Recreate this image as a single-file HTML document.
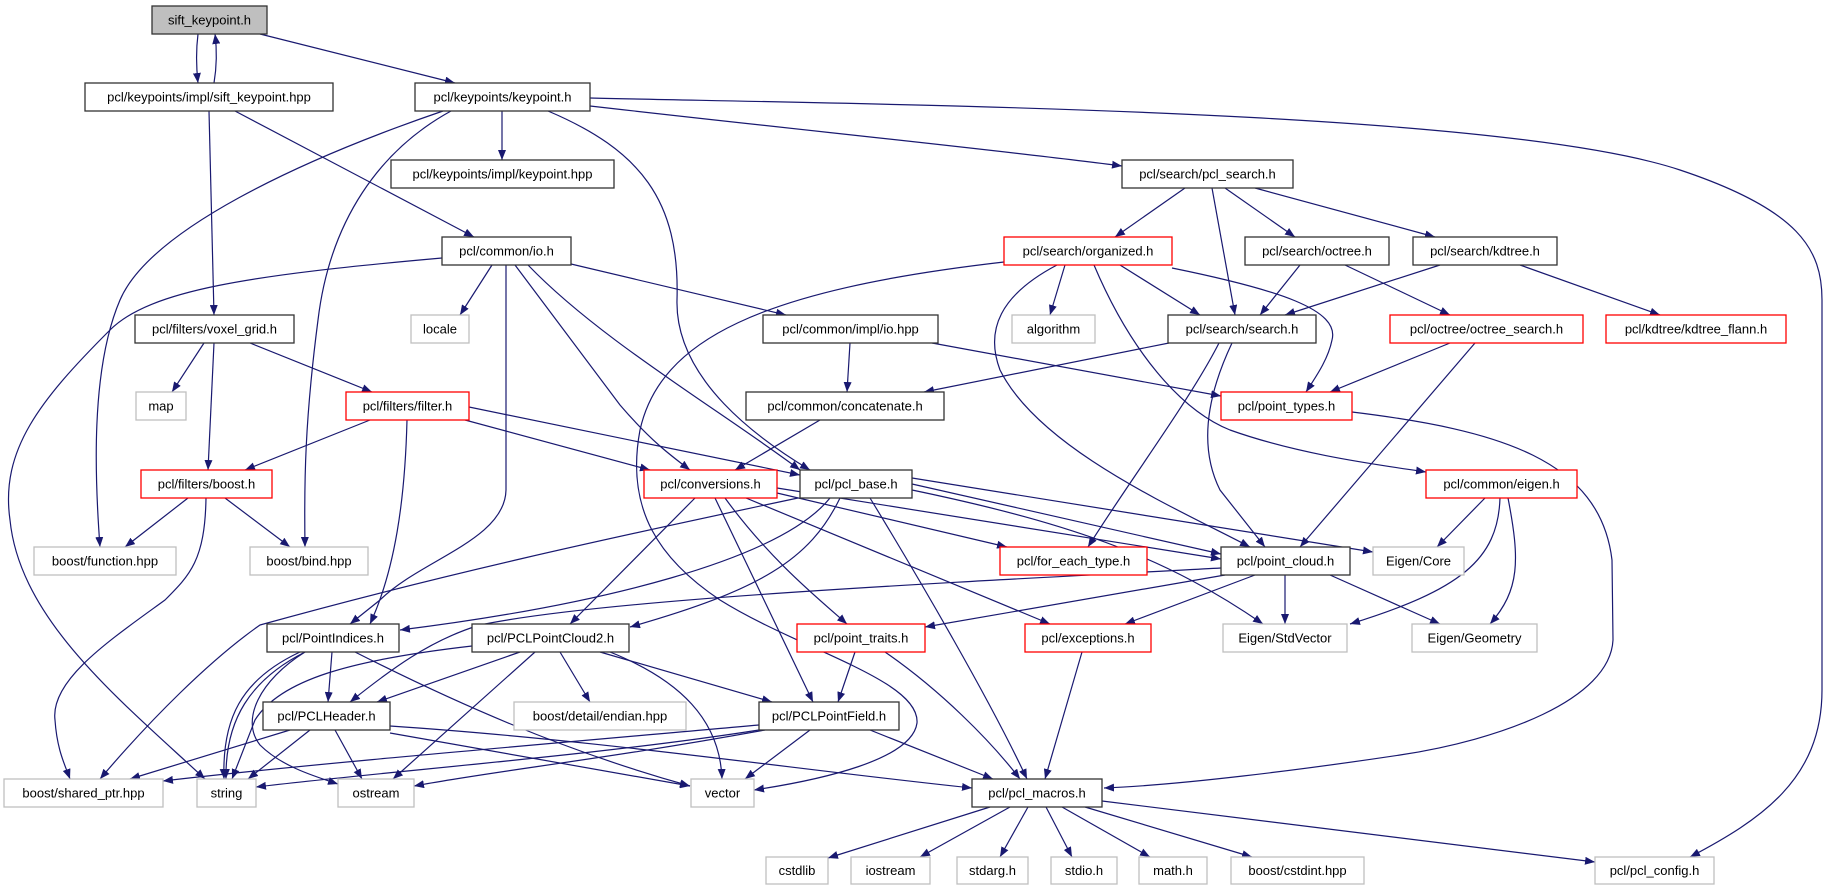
<!DOCTYPE html>
<html><head><meta charset="utf-8"><style>
html,body{margin:0;padding:0;background:#fff;}
svg{display:block;}
text{font-family:"Liberation Sans",sans-serif;font-size:13px;fill:#000;text-anchor:middle;}
.b{fill:#fff;stroke:#333;stroke-width:1.3;}
.r{fill:#fff;stroke:#ff0000;stroke-width:1.3;}
.g{fill:#fff;stroke:#bfbfbf;stroke-width:1.3;}
path.e{fill:none;stroke:#191970;stroke-width:1.2;marker-end:url(#a);}
</style></head><body>
<svg width="1828" height="891" viewBox="0 0 1828 891" xmlns="http://www.w3.org/2000/svg">
<defs><marker id="a" markerUnits="userSpaceOnUse" markerWidth="11" markerHeight="8" refX="10" refY="4" orient="auto"><path d="M0,0 L10,4 L0,8 z" fill="#191970"/></marker></defs>
<g>
<path class="e" d="M198,34 C196,50 196,65 198,83"/>
<path class="e" d="M214,83 C217,65 217,50 215,34"/>
<path class="e" d="M260,34 L455,83"/>
<path class="e" d="M209,111 L214,315"/>
<path class="e" d="M235,111 L474,237"/>
<path class="e" d="M502,111 L502,160"/>
<path class="e" d="M590,106 C800,130 1000,150 1122,166"/>
<path class="e" d="M590,98 C900,105 1500,110 1680,170 C1800,210 1822,250 1822,300 L1822,690 C1822,780 1760,820 1690,857"/>
<path class="e" d="M443,111 C300,160 150,230 120,300 C90,370 95,480 100,547"/>
<path class="e" d="M451,111 C380,150 330,220 318,320 C305,420 304,480 305,547"/>
<path class="e" d="M548,111 C640,150 680,200 677,300 C675,380 760,440 810,470"/>
<path class="e" d="M1185,188 L1115,237"/>
<path class="e" d="M1212,188 L1235,315"/>
<path class="e" d="M1225,188 L1295,237"/>
<path class="e" d="M1255,188 L1435,237"/>
<path class="e" d="M1065,265 L1050,315"/>
<path class="e" d="M1120,265 L1200,315"/>
<path class="e" d="M1172,268 C1280,290 1340,310 1332,340 C1328,360 1315,378 1306,392"/>
<path class="e" d="M1004,262 C760,290 660,340 640,430 C625,510 660,560 720,600 C800,650 920,680 917,723 C912,760 820,780 754,790"/>
<path class="e" d="M1057,265 C1000,295 985,330 1000,370 C1040,450 1180,510 1250,547"/>
<path class="e" d="M1094,265 C1130,350 1180,410 1230,430 C1300,455 1380,465 1426,472"/>
<path class="e" d="M1300,265 L1260,315"/>
<path class="e" d="M1345,265 L1450,315"/>
<path class="e" d="M1440,265 L1285,315"/>
<path class="e" d="M1520,265 L1660,315"/>
<path class="e" d="M442,258 C250,275 150,290 110,330 C40,400 0,450 10,520 C20,620 120,700 205,779"/>
<path class="e" d="M492,265 L460,315"/>
<path class="e" d="M506,265 L506,490 C505,540 420,560 380,600 L350,624"/>
<path class="e" d="M515,265 L620,405 C650,440 670,455 690,470"/>
<path class="e" d="M528,265 C600,340 720,410 800,470"/>
<path class="e" d="M571,264 L786,315"/>
<path class="e" d="M204,343 L172,392"/>
<path class="e" d="M214,343 L208,470"/>
<path class="e" d="M250,343 L372,392"/>
<path class="e" d="M370,420 L245,470"/>
<path class="e" d="M465,420 L650,470"/>
<path class="e" d="M469,407 L800,475"/>
<path class="e" d="M407,420 C405,500 395,570 370,624"/>
<path class="e" d="M188,498 L125,547"/>
<path class="e" d="M225,498 L290,547"/>
<path class="e" d="M206,498 C205,560 190,575 165,600 C110,640 50,680 55,720 C57,750 65,765 70,779"/>
<path class="e" d="M850,343 L847,392"/>
<path class="e" d="M932,343 L1221,396"/>
<path class="e" d="M1169,343 L924,392"/>
<path class="e" d="M1219,343 C1190,400 1130,480 1088,547"/>
<path class="e" d="M1232,343 C1205,400 1200,450 1220,490 L1265,547"/>
<path class="e" d="M820,420 L735,470"/>
<path class="e" d="M1450,343 L1330,392"/>
<path class="e" d="M1475,343 L1300,547"/>
<path class="e" d="M1352,412 C1500,430 1600,460 1612,560 L1613,640 C1610,700 1500,740 1400,755 C1300,770 1180,785 1104,788"/>
<path class="e" d="M1485,498 L1437,547"/>
<path class="e" d="M1500,498 C1498,560 1460,590 1350,624"/>
<path class="e" d="M1508,498 C1520,560 1520,590 1490,624"/>
<path class="e" d="M695,498 L570,624"/>
<path class="e" d="M715,498 L813,702"/>
<path class="e" d="M725,498 C770,560 820,600 847,624"/>
<path class="e" d="M746,498 L1050,624"/>
<path class="e" d="M777,493 L1007,547"/>
<path class="e" d="M777,488 L1221,559"/>
<path class="e" d="M912,484 L1221,554"/>
<path class="e" d="M912,478 L1373,552"/>
<path class="e" d="M912,490 C1080,525 1170,560 1263,624"/>
<path class="e" d="M798,498 C600,540 440,575 260,625 C210,660 150,720 100,779"/>
<path class="e" d="M830,498 C780,560 600,605 400,630"/>
<path class="e" d="M840,498 C810,560 760,590 630,627"/>
<path class="e" d="M870,498 C920,580 990,700 1027,779"/>
<path class="e" d="M1221,568 C900,585 600,600 480,625 C430,640 390,670 350,702"/>
<path class="e" d="M1225,575 L925,627"/>
<path class="e" d="M1255,575 L1125,624"/>
<path class="e" d="M1285,575 L1285,624"/>
<path class="e" d="M1330,575 L1440,624"/>
<path class="e" d="M305,652 C250,680 225,720 226,779"/>
<path class="e" d="M300,652 C240,680 222,720 224,779"/>
<path class="e" d="M332,652 L328,702"/>
<path class="e" d="M355,652 C450,700 560,750 690,786"/>
<path class="e" d="M305,652 C260,680 240,720 260,745 C280,765 310,775 338,784"/>
<path class="e" d="M520,652 L377,702"/>
<path class="e" d="M472,646 C350,660 280,680 255,720 L232,779"/>
<path class="e" d="M560,652 L590,702"/>
<path class="e" d="M600,652 L772,702"/>
<path class="e" d="M610,652 C680,680 720,720 722,779"/>
<path class="e" d="M535,652 L393,779"/>
<path class="e" d="M855,652 L838,702"/>
<path class="e" d="M885,652 C940,690 990,740 1020,779"/>
<path class="e" d="M1082,652 L1045,779"/>
<path class="e" d="M290,730 L130,779"/>
<path class="e" d="M310,730 L248,779"/>
<path class="e" d="M335,730 L362,779"/>
<path class="e" d="M390,733 L690,786"/>
<path class="e" d="M390,726 C600,740 800,770 972,788"/>
<path class="e" d="M759,725 C500,748 300,765 163,781"/>
<path class="e" d="M759,730 C600,755 400,770 256,787"/>
<path class="e" d="M765,730 C600,760 500,770 414,786"/>
<path class="e" d="M810,730 L745,779"/>
<path class="e" d="M870,730 L993,779"/>
<path class="e" d="M990,807 L828,858"/>
<path class="e" d="M1010,807 L920,857"/>
<path class="e" d="M1028,807 L1000,857"/>
<path class="e" d="M1046,807 L1072,857"/>
<path class="e" d="M1062,807 L1150,857"/>
<path class="e" d="M1085,807 L1252,857"/>
<path class="e" d="M1102,801 L1595,862"/>
</g>
<g>
<rect x="152" y="6" width="115" height="28" fill="#bfbfbf" stroke="#333" stroke-width="1.3"/><text x="209.5" y="24.5">sift_keypoint.h</text>
<rect class="b" x="85" y="83" width="248" height="28"/><text x="209" y="101.5">pcl/keypoints/impl/sift_keypoint.hpp</text>
<rect class="b" x="415" y="83" width="175" height="28"/><text x="502.5" y="101.5">pcl/keypoints/keypoint.h</text>
<rect class="b" x="391" y="160" width="223" height="28"/><text x="502.5" y="178.5">pcl/keypoints/impl/keypoint.hpp</text>
<rect class="b" x="1122" y="160" width="171" height="28"/><text x="1207.5" y="178.5">pcl/search/pcl_search.h</text>
<rect class="b" x="442" y="237" width="129" height="28"/><text x="506.5" y="255.5">pcl/common/io.h</text>
<rect class="r" x="1004" y="237" width="168" height="28"/><text x="1088" y="255.5">pcl/search/organized.h</text>
<rect class="b" x="1245" y="237" width="144" height="28"/><text x="1317" y="255.5">pcl/search/octree.h</text>
<rect class="b" x="1413" y="237" width="144" height="28"/><text x="1485" y="255.5">pcl/search/kdtree.h</text>
<rect class="b" x="135" y="315" width="159" height="28"/><text x="214.5" y="333.5">pcl/filters/voxel_grid.h</text>
<rect class="g" x="411" y="315" width="58" height="28"/><text x="440" y="333.5">locale</text>
<rect class="b" x="763" y="315" width="175" height="28"/><text x="850.5" y="333.5">pcl/common/impl/io.hpp</text>
<rect class="g" x="1012" y="315" width="83" height="28"/><text x="1053.5" y="333.5">algorithm</text>
<rect class="b" x="1168" y="315" width="148" height="28"/><text x="1242" y="333.5">pcl/search/search.h</text>
<rect class="r" x="1390" y="315" width="193" height="28"/><text x="1486.5" y="333.5">pcl/octree/octree_search.h</text>
<rect class="r" x="1606" y="315" width="180" height="28"/><text x="1696" y="333.5">pcl/kdtree/kdtree_flann.h</text>
<rect class="g" x="136" y="392" width="50" height="28"/><text x="161" y="410.5">map</text>
<rect class="r" x="346" y="392" width="123" height="28"/><text x="407.5" y="410.5">pcl/filters/filter.h</text>
<rect class="b" x="746" y="392" width="198" height="28"/><text x="845" y="410.5">pcl/common/concatenate.h</text>
<rect class="r" x="1221" y="392" width="131" height="28"/><text x="1286.5" y="410.5">pcl/point_types.h</text>
<rect class="r" x="141" y="470" width="131" height="28"/><text x="206.5" y="488.5">pcl/filters/boost.h</text>
<rect class="r" x="644" y="470" width="133" height="28"/><text x="710.5" y="488.5">pcl/conversions.h</text>
<rect class="b" x="800" y="470" width="112" height="28"/><text x="856" y="488.5">pcl/pcl_base.h</text>
<rect class="r" x="1426" y="470" width="151" height="28"/><text x="1501.5" y="488.5">pcl/common/eigen.h</text>
<rect class="g" x="34" y="547" width="142" height="28"/><text x="105" y="565.5">boost/function.hpp</text>
<rect class="g" x="250" y="547" width="118" height="28"/><text x="309" y="565.5">boost/bind.hpp</text>
<rect class="r" x="1000" y="547" width="147" height="28"/><text x="1073.5" y="565.5">pcl/for_each_type.h</text>
<rect class="b" x="1221" y="547" width="129" height="28"/><text x="1285.5" y="565.5">pcl/point_cloud.h</text>
<rect class="g" x="1373" y="547" width="91" height="28"/><text x="1418.5" y="565.5">Eigen/Core</text>
<rect class="b" x="267" y="624" width="132" height="28"/><text x="333" y="642.5">pcl/PointIndices.h</text>
<rect class="b" x="472" y="624" width="157" height="28"/><text x="550.5" y="642.5">pcl/PCLPointCloud2.h</text>
<rect class="r" x="797" y="624" width="128" height="28"/><text x="861" y="642.5">pcl/point_traits.h</text>
<rect class="r" x="1025" y="624" width="126" height="28"/><text x="1088" y="642.5">pcl/exceptions.h</text>
<rect class="g" x="1223" y="624" width="124" height="28"/><text x="1285" y="642.5">Eigen/StdVector</text>
<rect class="g" x="1412" y="624" width="125" height="28"/><text x="1474.5" y="642.5">Eigen/Geometry</text>
<rect class="b" x="263" y="702" width="127" height="28"/><text x="326.5" y="720.5">pcl/PCLHeader.h</text>
<rect class="g" x="514" y="702" width="172" height="28"/><text x="600" y="720.5">boost/detail/endian.hpp</text>
<rect class="b" x="759" y="702" width="140" height="28"/><text x="829" y="720.5">pcl/PCLPointField.h</text>
<rect class="g" x="4" y="779" width="159" height="28"/><text x="83.5" y="797.5">boost/shared_ptr.hpp</text>
<rect class="g" x="197" y="779" width="59" height="28"/><text x="226.5" y="797.5">string</text>
<rect class="g" x="338" y="779" width="76" height="28"/><text x="376" y="797.5">ostream</text>
<rect class="g" x="691" y="779" width="63" height="28"/><text x="722.5" y="797.5">vector</text>
<rect class="b" x="972" y="779" width="130" height="28"/><text x="1037" y="797.5">pcl/pcl_macros.h</text>
<rect class="g" x="766" y="857" width="62" height="27"/><text x="797" y="875">cstdlib</text>
<rect class="g" x="851" y="857" width="79" height="27"/><text x="890.5" y="875">iostream</text>
<rect class="g" x="957" y="857" width="71" height="27"/><text x="992.5" y="875">stdarg.h</text>
<rect class="g" x="1051" y="857" width="66" height="27"/><text x="1084" y="875">stdio.h</text>
<rect class="g" x="1139" y="857" width="68" height="27"/><text x="1173" y="875">math.h</text>
<rect class="g" x="1231" y="857" width="133" height="27"/><text x="1297.5" y="875">boost/cstdint.hpp</text>
<rect class="g" x="1595" y="857" width="119" height="27"/><text x="1654.5" y="875">pcl/pcl_config.h</text>
</g>
</svg>
</body></html>
